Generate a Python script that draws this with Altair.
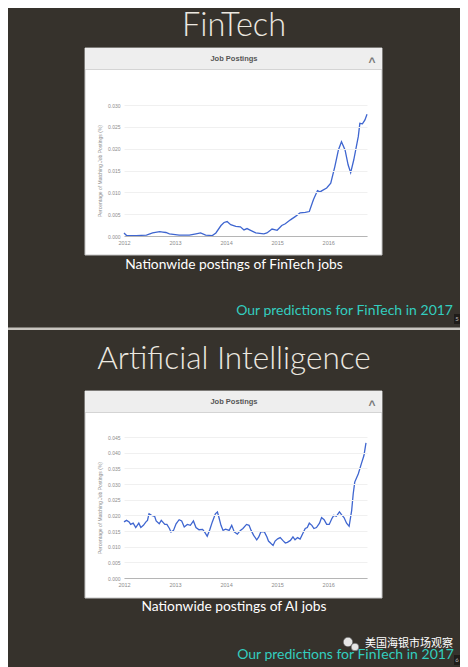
import altair as alt
import pandas as pd

# ---------------- data ----------------
fin_years = [2012.00, 2012.05, 2012.24, 2012.44, 2012.56, 2012.70, 2012.76, 2012.82, 2012.89,
             2013.08, 2013.28, 2013.41, 2013.50, 2013.60, 2013.73, 2013.80, 2013.90, 2013.96,
             2014.02, 2014.09, 2014.19, 2014.28, 2014.35, 2014.41, 2014.48, 2014.58, 2014.74,
             2014.80, 2014.90, 2015.00, 2015.09, 2015.16, 2015.26, 2015.36, 2015.45, 2015.55,
             2015.63, 2015.71, 2015.79, 2015.84, 2015.88, 2015.97, 2016.05, 2016.13, 2016.20,
             2016.26, 2016.33, 2016.39, 2016.44, 2016.50, 2016.59, 2016.62, 2016.67, 2016.72,
             2016.76]
fin_values = [0.0007, 0.0001, 0.0001, 0.0002, 0.0007, 0.0010, 0.0009, 0.0008, 0.0005,
              0.0002, 0.0002, 0.0005, 0.0007, 0.0002, 0.0001, 0.0007, 0.0024, 0.0031,
              0.0033, 0.0026, 0.0022, 0.0021, 0.0014, 0.0017, 0.0013, 0.0007, 0.0005,
              0.0007, 0.0016, 0.0013, 0.0024, 0.0028, 0.0037, 0.0045, 0.0053, 0.0054,
              0.0056, 0.0083, 0.0104, 0.0101, 0.0104, 0.0110, 0.0121, 0.0159, 0.0197,
              0.0216, 0.0197, 0.0163, 0.0145, 0.0174, 0.0228, 0.0258, 0.0257, 0.0266,
              0.0279]

ai_years = [2012.00, 2012.05, 2012.10, 2012.13, 2012.18, 2012.23, 2012.29, 2012.33, 2012.38,
            2012.43, 2012.46, 2012.49, 2012.54, 2012.60, 2012.63, 2012.69, 2012.73, 2012.80,
            2012.84, 2012.89, 2012.92, 2012.97, 2013.02, 2013.08, 2013.13, 2013.18, 2013.24,
            2013.30, 2013.36, 2013.41, 2013.47, 2013.54, 2013.59, 2013.63, 2013.68, 2013.73,
            2013.79, 2013.83, 2013.86, 2013.90, 2013.94, 2013.99, 2014.06, 2014.11, 2014.16,
            2014.22, 2014.28, 2014.33, 2014.40, 2014.45, 2014.49, 2014.54, 2014.60, 2014.64,
            2014.68, 2014.75, 2014.80, 2014.83, 2014.88, 2014.92, 2014.96, 2015.01, 2015.06,
            2015.11, 2015.16, 2015.20, 2015.26, 2015.31, 2015.35, 2015.40, 2015.45, 2015.50,
            2015.55, 2015.59, 2015.63, 2015.68, 2015.72, 2015.77, 2015.83, 2015.87, 2015.92,
            2015.97, 2016.02, 2016.07, 2016.11, 2016.16, 2016.22, 2016.26, 2016.31, 2016.36,
            2016.41, 2016.46, 2016.49, 2016.52, 2016.59, 2016.65, 2016.70, 2016.74]
ai_values = [0.0179, 0.0184, 0.0179, 0.0171, 0.0175, 0.0161, 0.0175, 0.0161, 0.0168,
             0.0179, 0.0184, 0.0205, 0.0200, 0.0197, 0.0182, 0.0173, 0.0184, 0.0171,
             0.0171, 0.0158, 0.0147, 0.0152, 0.0173, 0.0186, 0.0182, 0.0163, 0.0171,
             0.0168, 0.0182, 0.0161, 0.0154, 0.0155, 0.0144, 0.0133, 0.0154, 0.0179,
             0.0205, 0.0211, 0.0193, 0.0168, 0.0152, 0.0156, 0.0152, 0.0168, 0.0147,
             0.0140, 0.0152, 0.0158, 0.0171, 0.0168, 0.0152, 0.0136, 0.0122, 0.0131,
             0.0147, 0.0147, 0.0131, 0.0118, 0.0110, 0.0104, 0.0118, 0.0125, 0.0129,
             0.0120, 0.0112, 0.0114, 0.0120, 0.0131, 0.0122, 0.0129, 0.0124, 0.0141,
             0.0158, 0.0161, 0.0175, 0.0168, 0.0158, 0.0161, 0.0175, 0.0193, 0.0186,
             0.0171, 0.0171, 0.0189, 0.0200, 0.0197, 0.0211, 0.0202, 0.0193, 0.0175,
             0.0165, 0.0216, 0.0269, 0.0306, 0.0333, 0.0365, 0.0391, 0.0431]

year_ticks = [2012, 2013, 2014, 2015, 2016]
fin_y_ticks = [0.000, 0.005, 0.010, 0.015, 0.020, 0.025, 0.030]
ai_y_ticks = [0.000, 0.005, 0.010, 0.015, 0.020, 0.025, 0.030, 0.035, 0.040, 0.045]

slide_titles = ["FinTech", "Artificial Intelligence"]
captions = ["Nationwide postings of FinTech jobs", "Nationwide postings of AI jobs"]
footer_text = "Our predictions for FinTech in 2017"
page_numbers = ["5", "6"]
panel_title = "Job Postings"
y_title = "Percentage of Matching Job Postings (%)"
watermark = "美国海银市场观察"

# ---------------- styling ----------------
BG = "#36322c"
CYAN = "#33cdbf"
LINE = "#3f66d0"
TITLE_C = "#ece8e0"
AX_C = "#8c8c8c"
W = 243
H1, H2 = 131, 141
X_END = 2016.76

one = pd.DataFrame({"k": [0]})


def txt(text, x, y, size, color, font="Lato", weight="normal", align="center", baseline="middle"):
    return alt.Chart(one).mark_text(
        text=text, fontSize=size, color=color, font=font, fontWeight=weight,
        align=align, baseline=baseline
    ).encode(x=alt.value(x), y=alt.value(y))


def box(x, x2, y, y2, fill, stroke=None, sw=0):
    kw = dict(fill=fill)
    if stroke:
        kw.update(stroke=stroke, strokeWidth=sw)
    return alt.Chart(one).mark_rect(**kw).encode(
        x=alt.value(x), x2=alt.value(x2), y=alt.value(y), y2=alt.value(y2))


def dot(x, y, size, color):
    return alt.Chart(one).mark_point(filled=True, shape="circle", size=size, color=color,
                                     opacity=1, stroke="#555555", strokeWidth=0.6).encode(
        x=alt.value(x), y=alt.value(y))


def line_chart(years, values, yticks, ymax):
    df = pd.DataFrame({"year": years, "value": values})
    return alt.Chart(df).mark_line(color=LINE, strokeWidth=1.3).encode(
        x=alt.X("year:Q", scale=alt.Scale(domain=[2012, X_END], nice=False, zero=False),
                axis=alt.Axis(values=year_ticks, format="d", title=None, grid=False, ticks=False,
                              domain=True, domainColor="#b5b5b5", domainWidth=1,
                              labelFontSize=5.5, labelColor=AX_C, labelFont="Liberation Sans",
                              labelPadding=4, labelFlush=False, zindex=1)),
        y=alt.Y("value:Q", scale=alt.Scale(domain=[0, ymax], nice=False),
                axis=alt.Axis(values=yticks, format=".3f", title=y_title, titleFontSize=5,
                              titleFont="Liberation Sans", titleFontWeight="normal",
                              titleColor=AX_C, titlePadding=5, grid=True, gridColor="#f0f0f0",
                              ticks=False, domain=False, labelFontSize=5, labelColor=AX_C,
                              labelFont="Liberation Sans", labelPadding=4, labelFlush=False,
                              zindex=1)),
    )


# ---------------- slide 1 (coordinates relative to plot top-left) ----------------
slide1 = alt.layer(
    box(-116, 336, -97, 562, BG),
    box(-39, 258, -57, 150, "#ffffff", "#c4c4c4", 1),
    box(-39, 258, -57, -36, "#eeeeee"),
    box(-39, 258, -36, -35, "#d4d4d4"),
    txt(slide_titles[0], 110, -69, 32.5, TITLE_C, weight=300, baseline="alphabetic"),
    txt(panel_title, 110, -46, 7.5, "#555555", font="Liberation Sans", weight="bold"),
    txt("^", 248, -39.5, 12, "#777777", font="Liberation Sans", weight="bold", baseline="alphabetic"),
    txt(captions[0], 110, 160, 13.8, "#ffffff"),
    txt(footer_text, 329, 206, 14, CYAN, align="right"),
    box(330, 336, 209, 219, "#1f1c19"),
    txt(page_numbers[0], 333, 214, 6, "#bbbbbb"),
    box(-116, 336, 222.5, 225, "#c8c5bf"),
    line_chart(fin_years, fin_values, fin_y_ticks, 0.030),
).properties(width=W, height=H1)

# ---------------- slide 2 ----------------
slide2 = alt.layer(
    box(-39, 258, -46, 161, "#ffffff", "#c4c4c4", 1),
    box(-39, 258, -46, -25, "#eeeeee"),
    box(-39, 258, -25, -24, "#d4d4d4"),
    txt(slide_titles[1], 110, -68, 31.5, TITLE_C, weight=300, baseline="alphabetic"),
    txt(panel_title, 110, -35, 7.5, "#555555", font="Liberation Sans", weight="bold"),
    txt("^", 248, -28.5, 12, "#777777", font="Liberation Sans", weight="bold", baseline="alphabetic"),
    txt(captions[1], 110, 170, 13.8, "#ffffff"),
    txt(footer_text, 330, 218, 14, CYAN, align="right"),
    dot(224, 205, 90, "#e6e6e6"),
    dot(231, 210, 60, "#e6e6e6"),
    txt(watermark, 241, 206.5, 11, "#ffffff", font="Noto Sans CJK SC", align="left"),
    box(330, 336, 218, 228, "#1f1c19"),
    txt(page_numbers[1], 333, 223, 6, "#bbbbbb"),
    line_chart(ai_years, ai_values, ai_y_ticks, 0.045),
).properties(width=W, height=H2)

chart = alt.vconcat(slide1, slide2, spacing=201, bounds="flush").properties(
    padding=0,
    background=BG,
).configure_view(stroke=None)

chart.save("out.html", embed_options={"renderer": "svg", "actions": False})
